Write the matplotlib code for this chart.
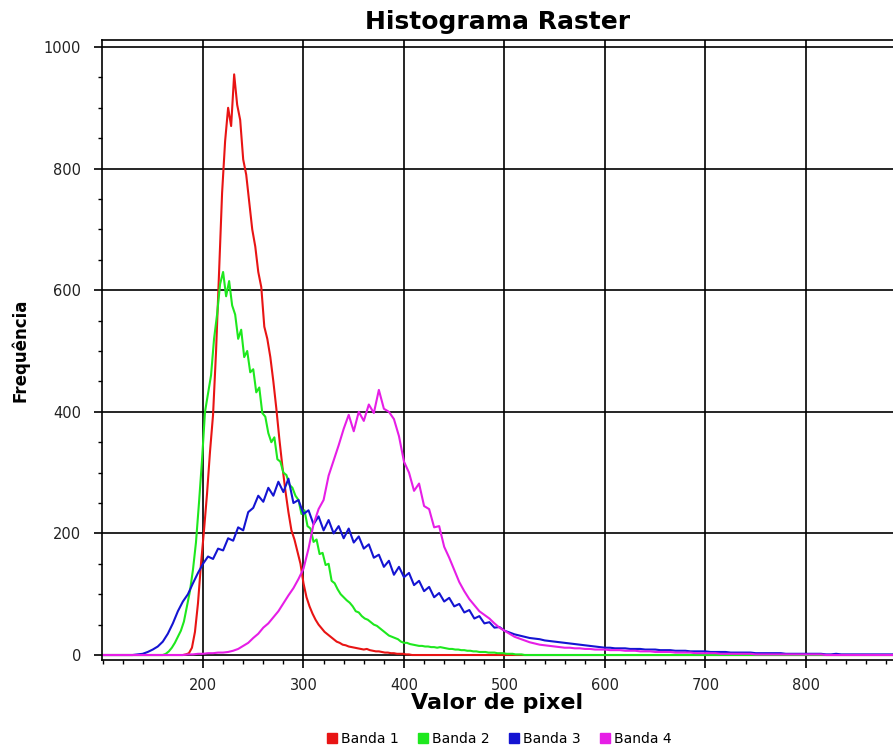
import numpy as np
import matplotlib
matplotlib.use("Agg")
import matplotlib.pyplot as plt
from matplotlib.lines import Line2D
from matplotlib.ticker import MultipleLocator

# pixel value range shown on the chart
x_min, x_max = 100, 890

# Banda 1 (red), values every 3 starting at 180
b1_start, b1_step = 180, 3
banda1 = [0, 1, 3, 12, 38, 85, 150, 205, 265, 335, 395, 500, 630, 760, 845, 900,
          870, 955, 905, 880, 815, 790, 745, 700, 672, 630, 605, 540, 520, 490, 450,
          405, 355, 310, 270, 235, 205, 190, 170, 150, 118, 95, 80, 68, 58, 50, 44,
          38, 34, 30, 26, 22, 20, 17, 16, 14, 13, 12, 11, 10, 9, 10, 8, 7, 6, 6, 5,
          4, 4, 3, 3, 2, 2, 2, 1, 1, 0]

# Banda 2 (green), values every 3 starting at 160
b2_start, b2_step = 160, 3
banda2 = [0, 2, 6, 12, 20, 30, 40, 55, 80, 105, 140, 185, 250, 320, 400, 430, 460,
          520, 560, 610, 630, 590, 615, 575, 560, 520, 535, 490, 500, 465,
          470, 432, 440, 398, 392, 365, 350, 358, 322, 318, 300, 296, 280, 275,
          262, 255, 232, 238, 212, 208, 186, 190, 166, 168, 148, 150, 122, 118,
          108, 100, 95, 90,
          86, 80, 72, 70, 64, 60, 58, 54, 50, 48, 44, 40, 36, 32, 30, 28, 26, 22, 20,
          20, 18, 17, 16, 15, 15, 14, 14, 13, 13, 12, 13, 12, 11, 10, 10, 9, 9, 8, 8,
          7, 7, 6, 6, 5, 5, 5, 4, 4, 4, 3, 3, 3, 2, 2, 2, 1, 1, 1, 0]

# Banda 3 (blue), values every 5 starting at 130
b3_start, b3_step = 130, 5
banda3 = [0, 1, 2, 5, 9, 14, 22, 35, 52, 72, 88, 100, 118, 135,
          150, 162, 158, 175, 172, 192, 188, 210, 205, 235,
          242, 262, 252, 275, 262, 285, 268, 290, 250, 255,
          232, 238, 215, 228, 205, 222, 200, 212, 192, 208,
          185, 195, 175, 182, 160, 165, 145, 155, 132, 145,
          128, 135, 115, 122, 105, 112, 95, 102, 88, 94,
          80, 84, 70, 74, 60, 64, 52, 54, 45, 46, 40,
          37, 34, 32, 30, 28, 27, 26,
          24, 23, 22, 21, 20, 19, 18, 17, 16, 15, 14, 13, 12, 12, 11, 11, 11, 10, 10,
          10, 9, 9, 9, 8, 8, 8, 7, 7, 7, 6, 6, 6, 6, 5, 5, 5, 5, 4, 4, 4, 4, 4, 3, 3,
          3, 3, 3, 3, 2, 2, 2, 2, 2, 2, 2, 2, 1, 1, 2, 1, 1, 1, 1, 1, 1, 1, 1, 1, 1, 1]

# Banda 4 (magenta), values every 5 starting at 180
b4_start, b4_step = 180, 5
banda4 = [0, 1, 1, 2, 2, 3, 3, 4, 4, 5, 7, 10, 15, 20, 28, 35, 45, 52, 62, 72, 85,
          98, 110, 125, 142, 175, 215, 240, 255, 295, 320, 345, 372, 395, 368, 400,
          385, 412, 398, 436, 405, 400, 388, 360, 318, 300, 270, 282, 245, 240, 210,
          212, 178, 160, 140, 120, 105, 92, 82, 72, 66, 60, 52, 45, 40, 35, 30, 27,
          24, 21, 19, 17, 16, 15, 14, 13, 12, 12, 11, 11, 10, 10, 9, 9, 9, 8, 8, 8,
          7, 7, 7, 6, 6, 6, 5, 5, 5, 5, 4, 4, 4, 4, 3, 3, 3, 3, 3, 2, 2, 2, 2, 2, 2,
          2, 1, 1, 1, 1, 1, 1, 1, 1, 1, 1, 1, 1, 1, 1, 0, 0, 0, 0, 0, 0, 0, 0, 0, 0,
          0, 0, 0]

labels = ['Banda 1', 'Banda 2', 'Banda 3', 'Banda 4']
colors = ['#e81414', '#1ee81e', '#1414d2', '#e61ee6']
series = [(b1_start, b1_step, banda1), (b2_start, b2_step, banda2),
          (b3_start, b3_step, banda3), (b4_start, b4_step, banda4)]

fig = plt.figure(figsize=(8.93, 7.47), dpi=100)
ax = fig.add_axes([102 / 893, 87 / 747, 1 - 102 / 893, 620 / 747])

for (start, step, vals), col in zip(series, colors):
    xs = start + step * np.arange(len(vals))
    ys = np.array(vals, dtype=float)
    # flat zero baseline outside the measured range
    xs = np.concatenate([[x_min], xs, [x_max]])
    ys = np.concatenate([[0], ys, [ys[-1]]])
    ax.plot(xs, ys, color=col, linewidth=1.5)

ax.set_xlim(99.5, 886.6)
ax.set_ylim(-8.2, 1011.5)

ax.xaxis.set_major_locator(MultipleLocator(100))
ax.xaxis.set_minor_locator(MultipleLocator(20))
ax.yaxis.set_major_locator(MultipleLocator(200))
ax.yaxis.set_minor_locator(MultipleLocator(50))
ax.set_xticks([200, 300, 400, 500, 600, 700, 800])
ax.tick_params(which='major', length=6, width=1.2, labelsize=10.5,
               labelcolor='#222222', direction='out')
ax.tick_params(axis='x', which='major', pad=7)
ax.tick_params(axis='y', which='major', pad=9)
ax.tick_params(which='minor', length=3, width=1, direction='out')

ax.grid(True, which='major', color='black', linewidth=1.2)
ax.set_axisbelow(True)
ax.spines['right'].set_visible(False)
for s in ['left', 'top', 'bottom']:
    ax.spines[s].set_linewidth(1.2)

ax.set_title('Histograma Raster', fontsize=18, fontweight='bold', pad=8)
ax.set_xlabel('Valor de pixel', fontsize=16, fontweight='bold', labelpad=0)
ax.set_ylabel('Frequência', fontsize=12, fontweight='bold', labelpad=10)

handles = [Line2D([], [], color=c, marker='s', linestyle='', markersize=7)
           for c in colors]
fig.legend(handles, labels, loc='center', bbox_to_anchor=(499 / 893, 8 / 747),
           ncol=4, frameon=False, fontsize=10, handletextpad=0.2,
           columnspacing=1.3, handlelength=0.9, borderpad=0.1)

fig.savefig('out.png', dpi=100)
